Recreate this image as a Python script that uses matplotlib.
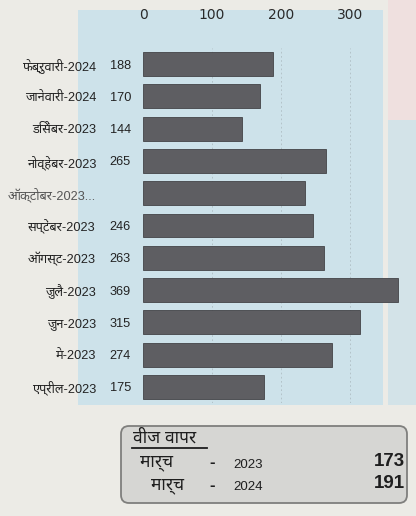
import matplotlib
matplotlib.use("Agg")
import matplotlib.pyplot as plt
from matplotlib import font_manager
from matplotlib.ft2font import FT2Font
from matplotlib.patches import Rectangle, FancyBboxPatch
from matplotlib.transforms import blended_transform_factory

# ---- data ----
months = ["फेब्रुवारी-2024", "जानेवारी-2024", "डिसेंबर-2023", "नोव्हेंबर-2023",
          "ऑक्टोबर-2023...", "सप्टेंबर-2023", "ऑगस्ट-2023", "जुलै-2023",
          "जुन-2023", "मे-2023", "एप्रील-2023"]
values = [188, 170, 144, 265, 235, 246, 263, 369, 315, 274, 175]
value_labels = ["188", "170", "144", "265", "", "246", "263", "369", "315", "274", "175"]
x_ticks = [0, 100, 200, 300]
box_title = "वीज वापर"
box_month = ["मार्च", "मार्च"]
box_years = ["2023", "2024"]
box_values = [173, 191]

# ---- find a font with Devanagari ----
cands = []
for f in font_manager.fontManager.ttflist:
    try:
        ft = FT2Font(f.fname)
        if ft.get_char_index(0x0915) and ft.get_char_index(0x093E):
            cands.append(f.name)
    except Exception:
        pass
deva = None
for pref in ["Noto Sans Devanagari", "Lohit Devanagari", "Mukta", "Hind"]:
    if pref in cands:
        deva = pref
        break
if deva is None and cands:
    deva = sorted(cands)[0]
extra = [deva] if deva else []
fam_dv = ["DejaVu Sans"] + extra
fam_ls = ["Liberation Sans"] + extra + ["DejaVu Sans"]
plt.rcParams["font.family"] = fam_dv

W, H = 416, 516
fig = plt.figure(figsize=(W / 100, H / 100), dpi=100)
fig.patch.set_facecolor("#ecebe6")

def fx(px):
    return px / W

def fy(py):
    return 1 - py / H

# background layer (pixel coordinates)
bg = fig.add_axes([0, 0, 1, 1], zorder=-10)
bg.set_xlim(0, W)
bg.set_ylim(H, 0)
bg.axis("off")
bg.add_patch(Rectangle((78, 10), 305, 395, facecolor="#cde2ea", edgecolor="none"))
bg.add_patch(Rectangle((388, 120), 28, 285, facecolor="#d3e3e8", edgecolor="none"))
bg.add_patch(Rectangle((388, 0), 28, 120, facecolor="#efe0df", edgecolor="none"))
bg.add_patch(FancyBboxPatch((121, 426), 286, 77, boxstyle="round,pad=0,rounding_size=8",
                            facecolor="#d6d6d3", edgecolor="#7f7f7d", linewidth=1.3))

scale = 0.69  # px per unit
ax_left, ax_right = 143, 412
ax_top, ax_bot = 48, 403
ax = fig.add_axes([fx(ax_left), fy(ax_bot), fx(ax_right) - fx(ax_left), fy(ax_top) - fy(ax_bot)],
                  zorder=1)
ax.set_facecolor("none")
ax.set_xlim(0, (ax_right - ax_left) / scale)
ax.set_ylim(len(values) - 0.5, -0.5)
ypos = list(range(len(values)))
ax.barh(ypos, values, height=0.74, color="#5e5e62", edgecolor="#434347", linewidth=0.6, zorder=3)
for x in x_ticks[1:]:
    ax.axvline(x, color="#9aa6aa", lw=0.6, ls=(0, (2, 3)), zorder=1, alpha=0.6)
ax.set_xticks(x_ticks)
ax.xaxis.tick_top()
ax.tick_params(axis="x", length=0, pad=19, labelsize=10, labelcolor="#2a2a2a")
ax.set_yticks([])
for s in ax.spines.values():
    s.set_visible(False)

tr = blended_transform_factory(fig.transFigure, ax.transData)
for i, (m, v) in enumerate(zip(months, value_labels)):
    col = "#555555" if not v else "#222222"
    ax.text(fx(96), i, m, transform=tr, ha="right", va="center_baseline", fontsize=9.2,
            color=col, clip_on=False, family=fam_ls)
    if v:
        ax.text(fx(131), i, v, transform=tr, ha="right", va="center_baseline", fontsize=9.2,
                color="#222222", clip_on=False, family=fam_ls)

# summary box text
bg.text(133, 437, box_title, ha="left", va="center", fontsize=12.5,
        color="#1e1e1e", fontweight="bold", family=fam_ls)
bg.plot([132, 207], [448, 448], color="#1e1e1e", lw=1.3)
rows_y = [461, 484]
row_x_month = [140, 151]
for k in range(2):
    bg.text(row_x_month[k], rows_y[k], box_month[k], ha="left", va="center_baseline",
            fontsize=12.5, color="#1e1e1e", family=fam_ls)
    bg.text(212, rows_y[k], "-", ha="center", va="center_baseline", fontsize=12,
            color="#1e1e1e", fontweight="bold", family=fam_ls)
    bg.text(233, rows_y[k] + 2, box_years[k], ha="left", va="center_baseline",
            fontsize=9.5, color="#1e1e1e", family=fam_ls)
    bg.text(405, rows_y[k] - 2, str(box_values[k]), ha="right", va="center_baseline",
            fontsize=13.5, color="#1e1e1e", fontweight="bold", family=fam_ls)

fig.savefig("out.png", dpi=100, facecolor=fig.get_facecolor())
